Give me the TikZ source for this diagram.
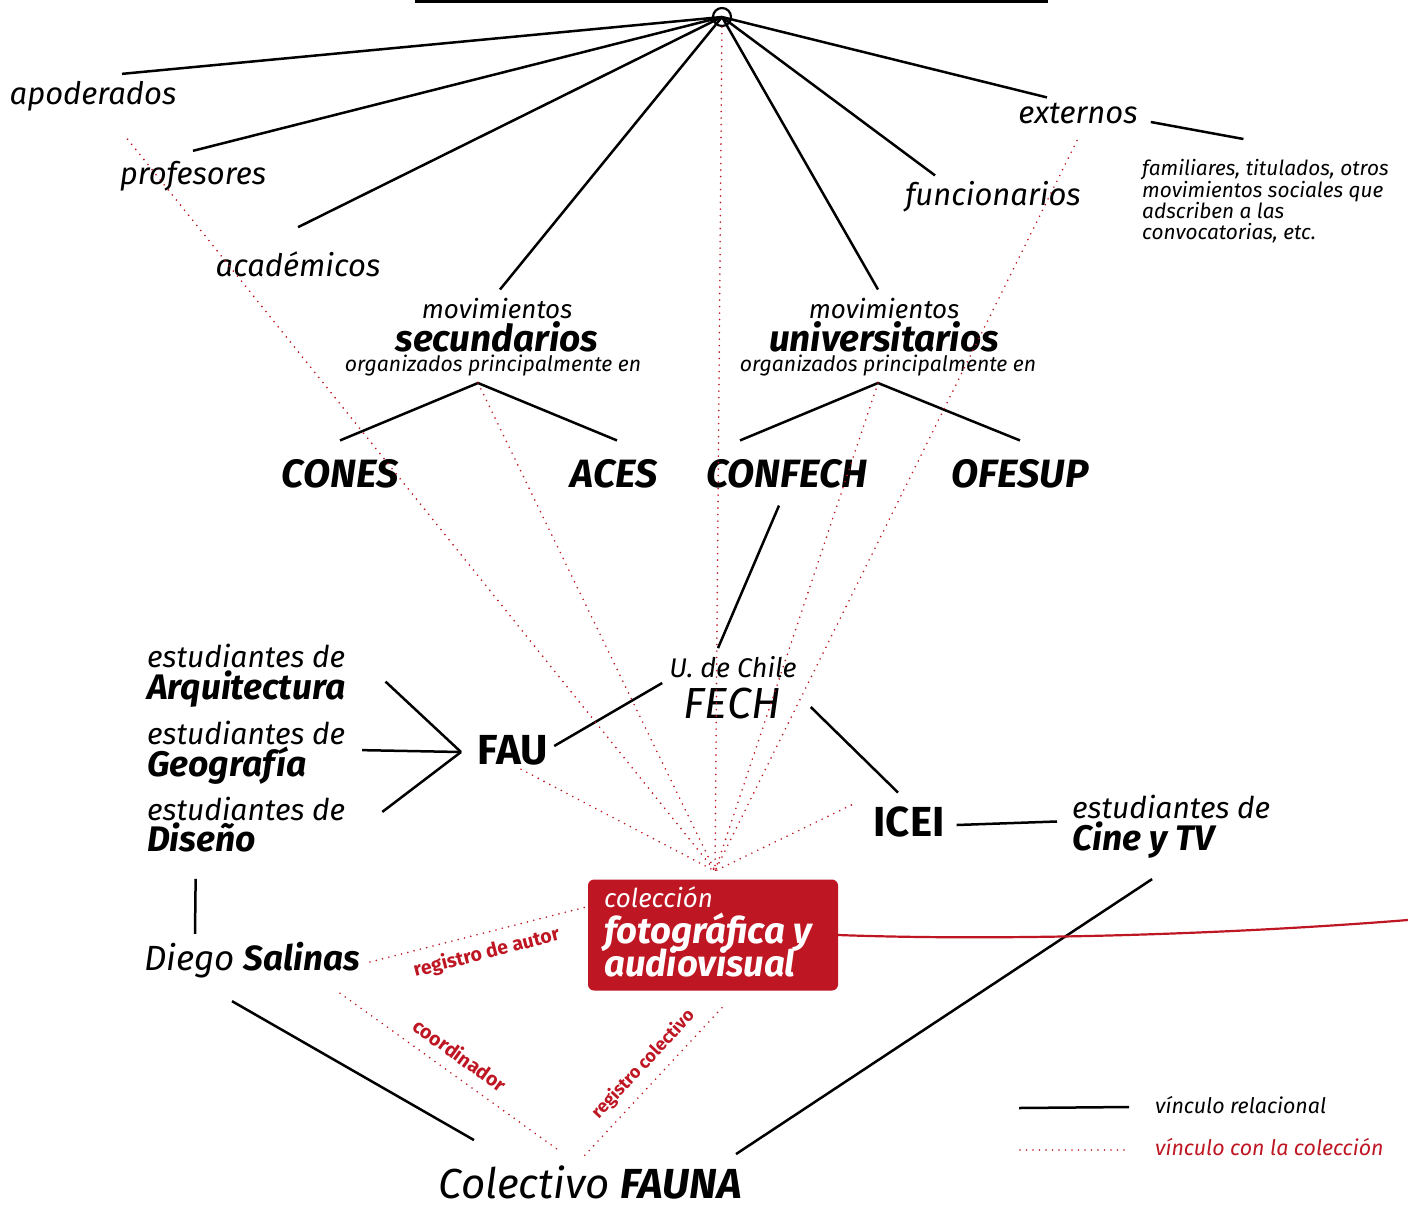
\documentclass[tikz,border=0pt]{standalone}
\usepackage{fontspec}
\setmainfont{Fira Sans}
\definecolor{fauna}{HTML}{BE1622}
\newcommand{\fsz}[1]{\fontsize{#1}{#1}\selectfont}

\tikzset{
  rel/.style={line width=2.5pt},
  colink/.style={draw=fauna, line width=1.8pt, dash pattern=on 0pt off 6.5pt, line cap=round},
  actor/.style={inner sep=0pt, font=\itshape\fsz{31}},
  mov/.style={inner sep=0pt, font=\itshape\fsz{26}},
  group/.style={inner sep=0pt, font=\bfseries\itshape\fsz{37}},
  sub/.style={inner sep=0pt, font=\itshape\fsz{21.2}},
  org/.style={inner sep=0pt, font=\bfseries\itshape\fsz{39.5}},
  inst/.style={inner sep=0pt, font=\bfseries\fsz{42}},
  estud/.style={inner sep=0pt, anchor=base west, font=\itshape\fsz{30}},
  carrera/.style={inner sep=0pt, anchor=base west, font=\bfseries\itshape\fsz{35.5}},
  note/.style={inner sep=0pt, align=left, font=\itshape\fontsize{20.8}{20.4}\selectfont},
  boxtxt/.style={inner sep=0pt, anchor=base west, text=white},
  tag/.style={inner sep=0pt, font=\bfseries\fsz{19.5}, text=fauna},
  legend/.style={inner sep=0pt, anchor=west, font=\itshape\fsz{21.4}},
}

\begin{document}
\begin{tikzpicture}[x=1pt, y=-1pt]
\useasboundingbox (0,0) rectangle (1408,1205);

% actors around the hub
\node[circle, draw, line width=2.2pt, minimum size=18pt, inner sep=0pt] (hub) at (722,17) {};
\node[actor] (apo) at (93,96) {apoderados};
\node[actor] (prof) at (193,176) {profesores};
\node[actor] (acad) at (298,264) {académicos};
\node[actor] (func) at (993,197) {funcionarios};
\node[actor] (ext) at (1078,113) {externos};
\node[note, anchor=north west] (fam) at (1142,159) {familiares, titulados, otros\\movimientos sociales que\\adscriben a las\\convocatorias, etc.};

% movements
\node[mov] (secmov) at (497,309) {movimientos};
\node[group] (sec) at (497,337) {secundarios};
\node[sub] (secorg) at (493,366) {organizados principalmente en};
\node[mov] (unimov) at (884,309) {movimientos};
\node[group] (uni) at (884,337) {universitarios};
\node[sub] (uniorg) at (888,366) {organizados principalmente en};
\coordinate (secfork) at (478,383);
\coordinate (unifork) at (878,383);

\node[org] (cones) at (340,474) {CONES};
\node[org] (aces) at (614,474) {ACES};
\node[org] (confech) at (787,474) {CONFECH};
\node[org] (ofesup) at (1020,474) {OFESUP};

% university
\node[inner sep=0pt, font=\itshape\fsz{27}] (uchile) at (733,667) {U. de Chile};
\node[inner sep=0pt, font=\itshape\fsz{43.5}] (fech) at (732,704) {FECH};
\node[inst] (fau) at (513,750) {FAU};
\node[inst] (icei) at (909,822) {ICEI};
\coordinate (faujoin) at (461,752);

\node[estud] (arqA) at (147,667) {estudiantes de};
\node[carrera] (arq) at (147,699) {Arquitectura};
\node[estud] (geoA) at (147,744) {estudiantes de};
\node[carrera] (geo) at (147,776) {Geografía};
\node[estud] (disA) at (147,820) {estudiantes de};
\node[carrera] (dis) at (147,851) {Diseño};
\node[estud] (cineA) at (1072,818) {estudiantes de};
\node[carrera] (cine) at (1072,850) {Cine y TV};

\node[inner sep=0pt, font=\itshape\fsz{35}] (diego) at (252,960) {Diego \textbf{Salinas}};
\node[inner sep=0pt, font=\itshape\fsz{42}] (fauna) at (590,1182) {Colectivo \textbf{FAUNA}};

% the collection
\node[fill=fauna, rounded corners=6pt, minimum width=250pt, minimum height=111pt, inner sep=0pt] (coll) at (713,935) {};
\node[boxtxt, font=\itshape\fsz{26}] (collA) at (604,907) {colección};
\node[boxtxt, font=\bfseries\itshape\fsz{36.5}] (collB) at (604,943) {fotográfica y};
\node[boxtxt, font=\bfseries\itshape\fsz{36.5}] (collC) at (604,976) {audiovisual};
\coordinate (focus) at (715,871);
\coordinate (edge) at (1408,920);

% relational links
\draw[line width=3pt] (415,1) -- (1048,1);
\draw[rel] (hub.center) -- ([shift={(29,-7)}]apo.north);
\draw[rel] (hub.center) -- ([shift={(0,-10)}]prof.north);
\draw[rel] (hub.center) -- ([shift={(0,-24)}]acad.north);
\draw[rel] (hub.center) -- ([shift={(3,-9)}]secmov.north);
\draw[rel] (hub.center) -- ([shift={(-6,-9)}]unimov.north);
\draw[rel] (hub.center) -- ([shift={(-58,-6)}]func.north);
\draw[rel] (hub.center) -- ([shift={(-31,-5)}]ext.north);
\draw[rel] ([shift={(13,9)}]ext.east) -- ([shift={(-22,-20)}]fam.north);

\draw[rel] ([shift={(0,-19)}]cones.north) -- (secfork) -- ([shift={(3,-19)}]aces.north);
\draw[rel] ([shift={(-47,-19)}]confech.north) -- (unifork) -- ([shift={(0,-19)}]ofesup.north);
\draw[rel] ([shift={(-8,17)}]confech.south) -- ([shift={(-15,-8)}]uchile.north);
\draw[rel] ([shift={(6,-4)}]fau.east) -- ([shift={(-7,16)}]uchile.west);
\draw[rel] ([shift={(30,3)}]fech.east) -- ([shift={(-11,-14)}]icei.north);
\draw[rel] ([shift={(12,3)}]icei.east) -- ([shift={(-15,15)}]cineA.west);

\draw[rel] ([shift={(40,-7)}]arq.east) -- (faujoin);
\draw[rel] ([shift={(55,-15)}]geo.east) -- (faujoin);
\draw[rel] ([shift={(126,-25)}]dis.east) -- (faujoin);
\draw[rel] ([shift={(-6,27)}]dis.south) -- ([shift={(-57,-8)}]diego.north);
\draw[rel] ([shift={(-20,23)}]diego.south) -- ([shift={(-116,-25)}]fauna.north);
\draw[rel] ([shift={(9,21)}]cine.south) -- ([shift={(146,-11)}]fauna.north);

% links with the collection
\draw[fauna, line width=2.2pt] (coll.east) .. controls (1000,941) and (1220,935) .. (edge);
\foreach \s/\c in {apo/36, secfork/0, unifork/0}
  \draw[colink, shorten <=\c pt] (\s) -- (focus);
\draw[colink] ([shift={(-1,17)}]ext.south) -- (focus);
\draw[colink] (hub) -- (focus);
\draw[colink, shorten <=9pt] (fau.south) -- (focus);
\draw[colink] ([shift={(-22,-17)}]icei.west) -- (focus);

\draw[colink] ([shift={(10,2)}]diego.east) -- node[tag, sloped, below=9pt, pos=0.52] {registro de autor} ([shift={(-3,28)}]coll.north west);
\draw[colink] ([shift={(-20,15)}]diego.south east) -- node[tag, sloped, above=11pt, pos=0.5] {coordinador} ([shift={(-33,-16)}]fauna.north);
\draw[colink] ([shift={(9,17)}]coll.south) -- node[tag, font=\bfseries\fsz{17.8}, sloped, above=9pt, pos=0.47] {registro colectivo} ([shift={(-6,-9)}]fauna.north);

% legend
\node[legend] (legrel) at (1155,1105) {vínculo relacional};
\node[legend, text=fauna] (legcol) at (1155,1147) {vínculo con la colección};
\draw[rel] ([shift={(-136,3)}]legrel.west) -- ([shift={(-26,2)}]legrel.west);
\draw[colink] ([shift={(-135,3)}]legcol.west) -- ([shift={(-25,3)}]legcol.west);
\end{tikzpicture}
\end{document}
